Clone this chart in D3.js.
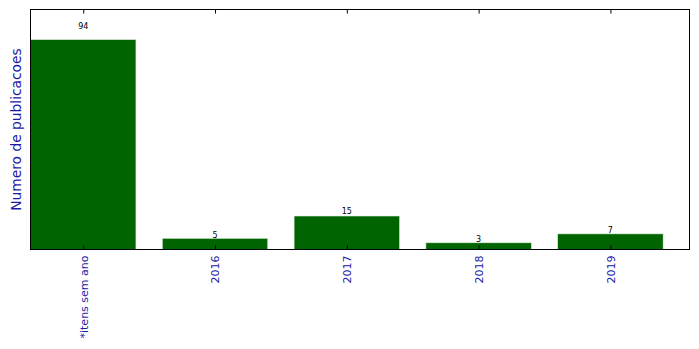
<!DOCTYPE html>
<html><head><meta charset="utf-8">
<script src="https://cdn.jsdelivr.net/npm/d3@7"></script>
<style>body{margin:0;background:#fff}svg{display:block}</style>
</head><body><svg id="c" width="699" height="349"></svg>
<script>
const categories = ["*itens sem ano", "2016", "2017", "2018", "2019"];
const values = [94, 5, 15, 3, 7];
const yLabel = "Numero de publicacoes";

const W = 699, H = 349;
const m = {left: 30.5, right: 689.5, top: 9.5, bottom: 249.5};
const svg = d3.select("#c");
const x = d3.scaleLinear().domain([-0.4, categories.length - 0.4]).range([m.left, m.right]);
const y = d3.scaleLinear().domain([0, 107.5]).range([m.bottom, m.top]);
const bw = x(0.8) - x(0);
const blue = "#1a1aa6";

svg.append("g").selectAll("rect").data(values).join("rect")
  .attr("x", (d, i) => x(i - 0.4))
  .attr("y", d => y(d))
  .attr("width", bw)
  .attr("height", d => y(0) - y(d))
  .attr("fill", "#006400")
  .attr("stroke", "#d8ecd8").attr("stroke-width", 0.6);

svg.append("g").selectAll("text").data(values).join("text")
  .attr("x", (d, i) => x(i))
  .attr("y", d => y(d * 1.05))
  .attr("text-anchor", "middle")
  .attr("font-family", "DejaVu Sans").attr("font-size", 8).attr("fill", "#000")
  .text(d => d);

// frame
svg.append("rect").attr("x", m.left).attr("y", m.top)
  .attr("width", m.right - m.left).attr("height", m.bottom - m.top)
  .attr("fill", "none").attr("stroke", "#000").attr("stroke-width", 1);

// bottom axis, inward ticks
const xb = d3.axisBottom(x).tickValues(d3.range(categories.length))
  .tickFormat(i => categories[i]).tickSizeInner(-4).tickSizeOuter(0).tickPadding(6);
const gb = svg.append("g").attr("transform", `translate(0,${m.bottom})`).call(xb);
gb.select(".domain").remove();
gb.selectAll("line").attr("stroke", "#000");
gb.selectAll("text")
  .attr("font-family", "DejaVu Sans").attr("font-size", 11).attr("fill", blue)
  .attr("transform", "rotate(-90)")
  .attr("text-anchor", "end").attr("dy", "0.35em")
  .attr("x", -6).attr("y", 0);

// top axis ticks
const xt = d3.axisTop(x).tickValues(d3.range(categories.length))
  .tickFormat("").tickSizeInner(-4).tickSizeOuter(0);
const gt = svg.append("g").attr("transform", `translate(0,${m.top})`).call(xt);
gt.select(".domain").remove();
gt.selectAll("line").attr("stroke", "#000");

svg.append("text")
  .attr("transform", `translate(21,${(m.top + m.bottom) / 2}) rotate(-90)`)
  .attr("text-anchor", "middle")
  .attr("font-family", "DejaVu Sans").attr("font-size", 13.8).attr("fill", blue)
  .text(yLabel);
</script></body></html>
